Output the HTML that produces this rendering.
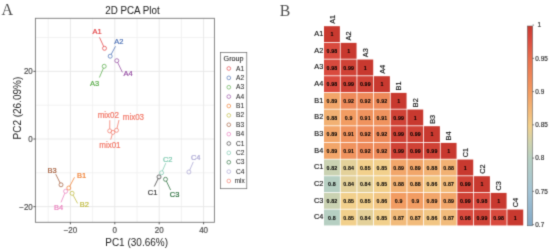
<!DOCTYPE html>
<html><head><meta charset="utf-8"><style>
html,body{margin:0;padding:0;background:#fff;}
body{width:550px;height:252px;overflow:hidden;}
svg{display:block;font-family:"Liberation Sans",sans-serif;will-change:transform;}
</style></head><body>
<svg width="550" height="252" viewBox="0 0 550 252">
<defs><filter id="soft" x="0" y="0" width="550" height="252" filterUnits="userSpaceOnUse" color-interpolation-filters="sRGB"><feConvolveMatrix order="3" kernelMatrix="0.01917 0.10012 0.01917 0.10012 0.52283 0.10012 0.01917 0.10012 0.01917" edgeMode="duplicate" preserveAlpha="true"/></filter></defs><g filter="url(#soft)"><rect width="550" height="252" fill="#fff"/><line x1="48.20" y1="18.3" x2="48.20" y2="222.3" stroke="#efefef" stroke-width="0.8"/>
<line x1="92.60" y1="18.3" x2="92.60" y2="222.3" stroke="#efefef" stroke-width="0.8"/>
<line x1="137.00" y1="18.3" x2="137.00" y2="222.3" stroke="#efefef" stroke-width="0.8"/>
<line x1="181.40" y1="18.3" x2="181.40" y2="222.3" stroke="#efefef" stroke-width="0.8"/>
<line x1="35.4" y1="37.53" x2="214.4" y2="37.53" stroke="#efefef" stroke-width="0.8"/>
<line x1="35.4" y1="105.18" x2="214.4" y2="105.18" stroke="#efefef" stroke-width="0.8"/>
<line x1="35.4" y1="172.82" x2="214.4" y2="172.82" stroke="#efefef" stroke-width="0.8"/>
<line x1="70.40" y1="18.3" x2="70.40" y2="222.3" stroke="#e9e9e9" stroke-width="1"/>
<line x1="114.80" y1="18.3" x2="114.80" y2="222.3" stroke="#e9e9e9" stroke-width="1"/>
<line x1="159.20" y1="18.3" x2="159.20" y2="222.3" stroke="#e9e9e9" stroke-width="1"/>
<line x1="203.60" y1="18.3" x2="203.60" y2="222.3" stroke="#e9e9e9" stroke-width="1"/>
<line x1="35.4" y1="71.35" x2="214.4" y2="71.35" stroke="#e9e9e9" stroke-width="1"/>
<line x1="35.4" y1="139.00" x2="214.4" y2="139.00" stroke="#e9e9e9" stroke-width="1"/>
<line x1="35.4" y1="206.65" x2="214.4" y2="206.65" stroke="#e9e9e9" stroke-width="1"/>
<line x1="103.67" y1="46.48" x2="99.5" y2="37.4" stroke="#e23f42" stroke-width="0.75"/>
<line x1="111.14" y1="54.44" x2="115.5" y2="46.3" stroke="#4a6fb5" stroke-width="0.75"/>
<line x1="103.41" y1="68.14" x2="99.4" y2="77.5" stroke="#58ab48" stroke-width="0.75"/>
<line x1="117.67" y1="62.50" x2="122.4" y2="72.3" stroke="#944ba2" stroke-width="0.75"/>
<line x1="69.74" y1="186.23" x2="74.5" y2="177.3" stroke="#ef7c2c" stroke-width="0.75"/>
<line x1="73.06" y1="195.06" x2="77.6" y2="203.4" stroke="#bfba3c" stroke-width="0.75"/>
<line x1="60.11" y1="183.01" x2="55.7" y2="174.1" stroke="#a35c3a" stroke-width="0.75"/>
<line x1="64.83" y1="193.15" x2="61.0" y2="202.4" stroke="#ea7cbc" stroke-width="0.75"/>
<line x1="158.12" y1="178.70" x2="154.3" y2="186.5" stroke="#3a3a3a" stroke-width="0.75"/>
<line x1="162.39" y1="170.96" x2="165.8" y2="163.1" stroke="#7cc8ae" stroke-width="0.75"/>
<line x1="166.36" y1="181.11" x2="170.6" y2="190.0" stroke="#2a6e3c" stroke-width="0.75"/>
<line x1="189.70" y1="170.17" x2="193.3" y2="161.9" stroke="#a8a4d2" stroke-width="0.75"/>
<line x1="112.32" y1="134.31" x2="110.7" y2="139.6" stroke="#f27868" stroke-width="0.75"/>
<line x1="109.72" y1="128.90" x2="109.8" y2="120.2" stroke="#f27868" stroke-width="0.75"/>
<line x1="116.97" y1="128.36" x2="119.0" y2="120.0" stroke="#f27868" stroke-width="0.75"/>
<circle cx="104.5" cy="48.3" r="2.0" fill="none" stroke="#e23f42" stroke-width="0.72"/>
<circle cx="110.2" cy="56.2" r="2.0" fill="none" stroke="#4a6fb5" stroke-width="0.72"/>
<circle cx="104.2" cy="66.3" r="2.0" fill="none" stroke="#58ab48" stroke-width="0.72"/>
<circle cx="116.8" cy="60.7" r="2.0" fill="none" stroke="#944ba2" stroke-width="0.72"/>
<circle cx="68.8" cy="188.0" r="2.0" fill="none" stroke="#ef7c2c" stroke-width="0.72"/>
<circle cx="72.1" cy="193.3" r="2.0" fill="none" stroke="#bfba3c" stroke-width="0.72"/>
<circle cx="61.0" cy="184.8" r="2.0" fill="none" stroke="#a35c3a" stroke-width="0.72"/>
<circle cx="65.6" cy="191.3" r="2.0" fill="none" stroke="#ea7cbc" stroke-width="0.72"/>
<circle cx="159.0" cy="176.9" r="2.0" fill="none" stroke="#3a3a3a" stroke-width="0.72"/>
<circle cx="161.6" cy="172.8" r="2.0" fill="none" stroke="#7cc8ae" stroke-width="0.72"/>
<circle cx="165.5" cy="179.3" r="2.0" fill="none" stroke="#2a6e3c" stroke-width="0.72"/>
<circle cx="188.9" cy="172.0" r="2.0" fill="none" stroke="#a8a4d2" stroke-width="0.72"/>
<circle cx="112.9" cy="132.4" r="2.0" fill="none" stroke="#f27868" stroke-width="0.72"/>
<circle cx="109.7" cy="130.9" r="2.0" fill="none" stroke="#f27868" stroke-width="0.72"/>
<circle cx="116.5" cy="130.3" r="2.0" fill="none" stroke="#f27868" stroke-width="0.72"/>
<text transform="translate(97.00,33.70) scale(1,1.03)" font-size="7.5" fill="#e23f42" stroke="#e23f42" stroke-width="0.2" text-anchor="middle">A1</text>
<text transform="translate(118.80,43.60) scale(1,1.03)" font-size="7.5" fill="#4a6fb5" stroke="#4a6fb5" stroke-width="0.2" text-anchor="middle">A2</text>
<text transform="translate(94.70,86.40) scale(1,1.03)" font-size="7.5" fill="#58ab48" stroke="#58ab48" stroke-width="0.2" text-anchor="middle">A3</text>
<text transform="translate(128.00,76.40) scale(1,1.03)" font-size="7.5" fill="#944ba2" stroke="#944ba2" stroke-width="0.2" text-anchor="middle">A4</text>
<text transform="translate(81.60,177.50) scale(1,1.03)" font-size="7.5" fill="#ef7c2c" stroke="#ef7c2c" stroke-width="0.2" text-anchor="middle">B1</text>
<text transform="translate(84.40,206.60) scale(1,1.03)" font-size="7.5" fill="#bfba3c" stroke="#bfba3c" stroke-width="0.2" text-anchor="middle">B2</text>
<text transform="translate(52.20,172.50) scale(1,1.03)" font-size="7.5" fill="#a35c3a" stroke="#a35c3a" stroke-width="0.2" text-anchor="middle">B3</text>
<text transform="translate(58.70,210.20) scale(1,1.03)" font-size="7.5" fill="#ea7cbc" stroke="#ea7cbc" stroke-width="0.2" text-anchor="middle">B4</text>
<text transform="translate(152.50,194.80) scale(1,1.03)" font-size="7.5" fill="#3a3a3a" stroke="#3a3a3a" stroke-width="0.2" text-anchor="middle">C1</text>
<text transform="translate(167.70,161.50) scale(1,1.03)" font-size="7.5" fill="#7cc8ae" stroke="#7cc8ae" stroke-width="0.2" text-anchor="middle">C2</text>
<text transform="translate(174.50,197.20) scale(1,1.03)" font-size="7.5" fill="#2a6e3c" stroke="#2a6e3c" stroke-width="0.2" text-anchor="middle">C3</text>
<text transform="translate(195.70,160.10) scale(1,1.03)" font-size="7.5" fill="#a8a4d2" stroke="#a8a4d2" stroke-width="0.2" text-anchor="middle">C4</text>
<text transform="translate(109.90,148.30) scale(1,1.03)" font-size="8.0" fill="#f27868" stroke="#f27868" stroke-width="0.2" text-anchor="middle">mix01</text>
<text transform="translate(108.30,117.50) scale(1,1.03)" font-size="8.0" fill="#f27868" stroke="#f27868" stroke-width="0.2" text-anchor="middle">mix02</text>
<text transform="translate(133.40,119.80) scale(1,1.03)" font-size="8.0" fill="#f27868" stroke="#f27868" stroke-width="0.2" text-anchor="middle">mix03</text>
<rect x="35.4" y="18.3" width="179.00" height="204.00" fill="none" stroke="#7a7a7a" stroke-width="0.9"/>
<line x1="70.40" y1="222.3" x2="70.40" y2="224.3" stroke="#333" stroke-width="0.8"/>
<line x1="114.80" y1="222.3" x2="114.80" y2="224.3" stroke="#333" stroke-width="0.8"/>
<line x1="159.20" y1="222.3" x2="159.20" y2="224.3" stroke="#333" stroke-width="0.8"/>
<line x1="203.60" y1="222.3" x2="203.60" y2="224.3" stroke="#333" stroke-width="0.8"/>
<line x1="33.4" y1="71.35" x2="35.4" y2="71.35" stroke="#333" stroke-width="0.8"/>
<line x1="33.4" y1="139.00" x2="35.4" y2="139.00" stroke="#333" stroke-width="0.8"/>
<line x1="33.4" y1="206.65" x2="35.4" y2="206.65" stroke="#333" stroke-width="0.8"/>
<text transform="translate(70.40,232.70) scale(1,1.03)" font-size="8" fill="#4d4d4d" stroke="#4d4d4d" stroke-width="0.18" text-anchor="middle">−20</text>
<text transform="translate(114.80,232.70) scale(1,1.03)" font-size="8" fill="#4d4d4d" stroke="#4d4d4d" stroke-width="0.18" text-anchor="middle">0</text>
<text transform="translate(159.20,232.70) scale(1,1.03)" font-size="8" fill="#4d4d4d" stroke="#4d4d4d" stroke-width="0.18" text-anchor="middle">20</text>
<text transform="translate(203.60,232.70) scale(1,1.03)" font-size="8" fill="#4d4d4d" stroke="#4d4d4d" stroke-width="0.18" text-anchor="middle">40</text>
<text transform="translate(32.80,74.25) scale(1,1.03)" font-size="8" fill="#4d4d4d" stroke="#4d4d4d" stroke-width="0.18" text-anchor="end">20</text>
<text transform="translate(32.80,141.90) scale(1,1.03)" font-size="8" fill="#4d4d4d" stroke="#4d4d4d" stroke-width="0.18" text-anchor="end">0</text>
<text transform="translate(32.80,209.55) scale(1,1.03)" font-size="8" fill="#4d4d4d" stroke="#4d4d4d" stroke-width="0.18" text-anchor="end">−20</text>
<text transform="translate(136.60,246.30) scale(1,1.03)" font-size="10" fill="#262626" text-anchor="middle">PC1 (30.66%)</text>
<text transform="translate(20.90,108.10) rotate(-90) scale(1,1.03)" font-size="10" fill="#262626" text-anchor="middle">PC2 (26.09%)</text>
<text transform="translate(132.40,13.80) scale(1,1.03)" font-size="9.8" fill="#222" stroke="#222" stroke-width="0.03" text-anchor="middle">2D PCA Plot</text>
<text transform="translate(1.60,15.20)" font-size="16.0" fill="#505050" font-family="Liberation Serif, serif">A</text>
<rect x="220.6" y="52.4" width="26.2" height="136.3" fill="#fff" stroke="#666" stroke-width="0.7"/>
<text transform="translate(223.60,60.50) scale(1,1.03)" font-size="7.2" fill="#2a2a2a" stroke="#2a2a2a" stroke-width="0.1">Group</text>
<circle cx="228.8" cy="68.50" r="1.85" fill="none" stroke="#e23f42" stroke-width="0.65"/>
<text transform="translate(236.00,70.60) scale(1,1.03)" font-size="6.6" fill="#333" stroke="#333" stroke-width="0.08">A1</text>
<circle cx="228.8" cy="77.88" r="1.85" fill="none" stroke="#4a6fb5" stroke-width="0.65"/>
<text transform="translate(236.00,79.98) scale(1,1.03)" font-size="6.6" fill="#333" stroke="#333" stroke-width="0.08">A2</text>
<circle cx="228.8" cy="87.25" r="1.85" fill="none" stroke="#58ab48" stroke-width="0.65"/>
<text transform="translate(236.00,89.35) scale(1,1.03)" font-size="6.6" fill="#333" stroke="#333" stroke-width="0.08">A3</text>
<circle cx="228.8" cy="96.62" r="1.85" fill="none" stroke="#944ba2" stroke-width="0.65"/>
<text transform="translate(236.00,98.73) scale(1,1.03)" font-size="6.6" fill="#333" stroke="#333" stroke-width="0.08">A4</text>
<circle cx="228.8" cy="106.00" r="1.85" fill="none" stroke="#ef7c2c" stroke-width="0.65"/>
<text transform="translate(236.00,108.10) scale(1,1.03)" font-size="6.6" fill="#333" stroke="#333" stroke-width="0.08">B1</text>
<circle cx="228.8" cy="115.38" r="1.85" fill="none" stroke="#bfba3c" stroke-width="0.65"/>
<text transform="translate(236.00,117.48) scale(1,1.03)" font-size="6.6" fill="#333" stroke="#333" stroke-width="0.08">B2</text>
<circle cx="228.8" cy="124.75" r="1.85" fill="none" stroke="#a35c3a" stroke-width="0.65"/>
<text transform="translate(236.00,126.85) scale(1,1.03)" font-size="6.6" fill="#333" stroke="#333" stroke-width="0.08">B3</text>
<circle cx="228.8" cy="134.12" r="1.85" fill="none" stroke="#ea7cbc" stroke-width="0.65"/>
<text transform="translate(236.00,136.22) scale(1,1.03)" font-size="6.6" fill="#333" stroke="#333" stroke-width="0.08">B4</text>
<circle cx="228.8" cy="143.50" r="1.85" fill="none" stroke="#3a3a3a" stroke-width="0.65"/>
<text transform="translate(236.00,145.60) scale(1,1.03)" font-size="6.6" fill="#333" stroke="#333" stroke-width="0.08">C1</text>
<circle cx="228.8" cy="152.88" r="1.85" fill="none" stroke="#7cc8ae" stroke-width="0.65"/>
<text transform="translate(236.00,154.97) scale(1,1.03)" font-size="6.6" fill="#333" stroke="#333" stroke-width="0.08">C2</text>
<circle cx="228.8" cy="162.25" r="1.85" fill="none" stroke="#2a6e3c" stroke-width="0.65"/>
<text transform="translate(236.00,164.35) scale(1,1.03)" font-size="6.6" fill="#333" stroke="#333" stroke-width="0.08">C3</text>
<circle cx="228.8" cy="171.62" r="1.85" fill="none" stroke="#a8a4d2" stroke-width="0.65"/>
<text transform="translate(236.00,173.72) scale(1,1.03)" font-size="6.6" fill="#333" stroke="#333" stroke-width="0.08">C4</text>
<circle cx="228.8" cy="181.00" r="1.85" fill="none" stroke="#f27868" stroke-width="0.65"/>
<text transform="translate(234.80,183.10) scale(1,1.03)" font-size="6.4" fill="#333" stroke="#333" stroke-width="0.08">mix</text>
<text transform="translate(279.80,15.50)" font-size="15.8" fill="#505050" font-family="Liberation Serif, serif">B</text>
<rect x="324.00" y="26.20" width="15.87" height="15.87" fill="#c8392f"/>
<rect x="324.00" y="42.87" width="15.87" height="15.87" fill="#d94a3e"/>
<rect x="340.67" y="42.87" width="15.87" height="15.87" fill="#c8392f"/>
<rect x="324.00" y="59.54" width="15.87" height="15.87" fill="#d94a3e"/>
<rect x="340.67" y="59.54" width="15.87" height="15.87" fill="#d04236"/>
<rect x="357.34" y="59.54" width="15.87" height="15.87" fill="#c8392f"/>
<rect x="324.00" y="76.21" width="15.87" height="15.87" fill="#d94a3e"/>
<rect x="340.67" y="76.21" width="15.87" height="15.87" fill="#d04236"/>
<rect x="357.34" y="76.21" width="15.87" height="15.87" fill="#d04236"/>
<rect x="374.01" y="76.21" width="15.87" height="15.87" fill="#c8392f"/>
<rect x="324.00" y="92.88" width="15.87" height="15.87" fill="#f2a66a"/>
<rect x="340.67" y="92.88" width="15.87" height="15.87" fill="#ee8a5a"/>
<rect x="357.34" y="92.88" width="15.87" height="15.87" fill="#ee8a5a"/>
<rect x="374.01" y="92.88" width="15.87" height="15.87" fill="#ee8a5a"/>
<rect x="390.68" y="92.88" width="15.87" height="15.87" fill="#c8392f"/>
<rect x="324.00" y="109.55" width="15.87" height="15.87" fill="#f2b173"/>
<rect x="340.67" y="109.55" width="15.87" height="15.87" fill="#f29c62"/>
<rect x="357.34" y="109.55" width="15.87" height="15.87" fill="#f0935e"/>
<rect x="374.01" y="109.55" width="15.87" height="15.87" fill="#f0935e"/>
<rect x="390.68" y="109.55" width="15.87" height="15.87" fill="#d04236"/>
<rect x="407.35" y="109.55" width="15.87" height="15.87" fill="#c8392f"/>
<rect x="324.00" y="126.22" width="15.87" height="15.87" fill="#f2a66a"/>
<rect x="340.67" y="126.22" width="15.87" height="15.87" fill="#f0935e"/>
<rect x="357.34" y="126.22" width="15.87" height="15.87" fill="#ee8a5a"/>
<rect x="374.01" y="126.22" width="15.87" height="15.87" fill="#ee8a5a"/>
<rect x="390.68" y="126.22" width="15.87" height="15.87" fill="#d04236"/>
<rect x="407.35" y="126.22" width="15.87" height="15.87" fill="#d04236"/>
<rect x="424.02" y="126.22" width="15.87" height="15.87" fill="#c8392f"/>
<rect x="324.00" y="142.89" width="15.87" height="15.87" fill="#f2a66a"/>
<rect x="340.67" y="142.89" width="15.87" height="15.87" fill="#f0935e"/>
<rect x="357.34" y="142.89" width="15.87" height="15.87" fill="#ee8a5a"/>
<rect x="374.01" y="142.89" width="15.87" height="15.87" fill="#ee8a5a"/>
<rect x="390.68" y="142.89" width="15.87" height="15.87" fill="#d04236"/>
<rect x="407.35" y="142.89" width="15.87" height="15.87" fill="#d04236"/>
<rect x="424.02" y="142.89" width="15.87" height="15.87" fill="#d04236"/>
<rect x="440.69" y="142.89" width="15.87" height="15.87" fill="#c8392f"/>
<rect x="324.00" y="159.56" width="15.87" height="15.87" fill="#cad2b2"/>
<rect x="340.67" y="159.56" width="15.87" height="15.87" fill="#e4d19a"/>
<rect x="357.34" y="159.56" width="15.87" height="15.87" fill="#f2d08c"/>
<rect x="374.01" y="159.56" width="15.87" height="15.87" fill="#f2d08c"/>
<rect x="390.68" y="159.56" width="15.87" height="15.87" fill="#f2a66a"/>
<rect x="407.35" y="159.56" width="15.87" height="15.87" fill="#f2a66a"/>
<rect x="424.02" y="159.56" width="15.87" height="15.87" fill="#f2b173"/>
<rect x="440.69" y="159.56" width="15.87" height="15.87" fill="#f2b173"/>
<rect x="457.36" y="159.56" width="15.87" height="15.87" fill="#c8392f"/>
<rect x="324.00" y="176.23" width="15.87" height="15.87" fill="#b6cfc2"/>
<rect x="340.67" y="176.23" width="15.87" height="15.87" fill="#e4d19a"/>
<rect x="357.34" y="176.23" width="15.87" height="15.87" fill="#e4d19a"/>
<rect x="374.01" y="176.23" width="15.87" height="15.87" fill="#f2d08c"/>
<rect x="390.68" y="176.23" width="15.87" height="15.87" fill="#f2b173"/>
<rect x="407.35" y="176.23" width="15.87" height="15.87" fill="#f2b173"/>
<rect x="424.02" y="176.23" width="15.87" height="15.87" fill="#f2c684"/>
<rect x="440.69" y="176.23" width="15.87" height="15.87" fill="#f2bb7b"/>
<rect x="457.36" y="176.23" width="15.87" height="15.87" fill="#d04236"/>
<rect x="474.03" y="176.23" width="15.87" height="15.87" fill="#c8392f"/>
<rect x="324.00" y="192.90" width="15.87" height="15.87" fill="#cad2b2"/>
<rect x="340.67" y="192.90" width="15.87" height="15.87" fill="#f2d08c"/>
<rect x="357.34" y="192.90" width="15.87" height="15.87" fill="#f2d08c"/>
<rect x="374.01" y="192.90" width="15.87" height="15.87" fill="#f2c684"/>
<rect x="390.68" y="192.90" width="15.87" height="15.87" fill="#f29c62"/>
<rect x="407.35" y="192.90" width="15.87" height="15.87" fill="#f29c62"/>
<rect x="424.02" y="192.90" width="15.87" height="15.87" fill="#f2a66a"/>
<rect x="440.69" y="192.90" width="15.87" height="15.87" fill="#f2a66a"/>
<rect x="457.36" y="192.90" width="15.87" height="15.87" fill="#d04236"/>
<rect x="474.03" y="192.90" width="15.87" height="15.87" fill="#d94a3e"/>
<rect x="490.70" y="192.90" width="15.87" height="15.87" fill="#c8392f"/>
<rect x="324.00" y="209.57" width="15.87" height="15.87" fill="#b6cfc2"/>
<rect x="340.67" y="209.57" width="15.87" height="15.87" fill="#f2d08c"/>
<rect x="357.34" y="209.57" width="15.87" height="15.87" fill="#e4d19a"/>
<rect x="374.01" y="209.57" width="15.87" height="15.87" fill="#f2d08c"/>
<rect x="390.68" y="209.57" width="15.87" height="15.87" fill="#f2bb7b"/>
<rect x="407.35" y="209.57" width="15.87" height="15.87" fill="#f2bb7b"/>
<rect x="424.02" y="209.57" width="15.87" height="15.87" fill="#f2c684"/>
<rect x="440.69" y="209.57" width="15.87" height="15.87" fill="#f2bb7b"/>
<rect x="457.36" y="209.57" width="15.87" height="15.87" fill="#d94a3e"/>
<rect x="474.03" y="209.57" width="15.87" height="15.87" fill="#d04236"/>
<rect x="490.70" y="209.57" width="15.87" height="15.87" fill="#d94a3e"/>
<rect x="507.37" y="209.57" width="15.87" height="15.87" fill="#c8392f"/>
<text transform="translate(332.01,36.24) scale(1,1.08)" font-size="5.3" fill="#000" stroke="#000" stroke-width="0.06" text-anchor="middle" font-weight="bold" letter-spacing="0.15">1</text>
<text transform="translate(332.01,52.91) scale(1,1.08)" font-size="5.3" fill="#000" stroke="#000" stroke-width="0.06" text-anchor="middle" font-weight="bold" letter-spacing="0.15">0.98</text>
<text transform="translate(348.69,52.91) scale(1,1.08)" font-size="5.3" fill="#000" stroke="#000" stroke-width="0.06" text-anchor="middle" font-weight="bold" letter-spacing="0.15">1</text>
<text transform="translate(332.01,69.57) scale(1,1.08)" font-size="5.3" fill="#000" stroke="#000" stroke-width="0.06" text-anchor="middle" font-weight="bold" letter-spacing="0.15">0.98</text>
<text transform="translate(348.69,69.57) scale(1,1.08)" font-size="5.3" fill="#000" stroke="#000" stroke-width="0.06" text-anchor="middle" font-weight="bold" letter-spacing="0.15">0.99</text>
<text transform="translate(365.36,69.57) scale(1,1.08)" font-size="5.3" fill="#000" stroke="#000" stroke-width="0.06" text-anchor="middle" font-weight="bold" letter-spacing="0.15">1</text>
<text transform="translate(332.01,86.25) scale(1,1.08)" font-size="5.3" fill="#000" stroke="#000" stroke-width="0.06" text-anchor="middle" font-weight="bold" letter-spacing="0.15">0.98</text>
<text transform="translate(348.69,86.25) scale(1,1.08)" font-size="5.3" fill="#000" stroke="#000" stroke-width="0.06" text-anchor="middle" font-weight="bold" letter-spacing="0.15">0.99</text>
<text transform="translate(365.36,86.25) scale(1,1.08)" font-size="5.3" fill="#000" stroke="#000" stroke-width="0.06" text-anchor="middle" font-weight="bold" letter-spacing="0.15">0.99</text>
<text transform="translate(382.02,86.25) scale(1,1.08)" font-size="5.3" fill="#000" stroke="#000" stroke-width="0.06" text-anchor="middle" font-weight="bold" letter-spacing="0.15">1</text>
<text transform="translate(332.01,102.91) scale(1,1.08)" font-size="5.3" fill="#000" stroke="#000" stroke-width="0.06" text-anchor="middle" font-weight="bold" letter-spacing="0.15">0.89</text>
<text transform="translate(348.69,102.91) scale(1,1.08)" font-size="5.3" fill="#000" stroke="#000" stroke-width="0.06" text-anchor="middle" font-weight="bold" letter-spacing="0.15">0.92</text>
<text transform="translate(365.36,102.91) scale(1,1.08)" font-size="5.3" fill="#000" stroke="#000" stroke-width="0.06" text-anchor="middle" font-weight="bold" letter-spacing="0.15">0.92</text>
<text transform="translate(382.02,102.91) scale(1,1.08)" font-size="5.3" fill="#000" stroke="#000" stroke-width="0.06" text-anchor="middle" font-weight="bold" letter-spacing="0.15">0.92</text>
<text transform="translate(398.69,102.91) scale(1,1.08)" font-size="5.3" fill="#000" stroke="#000" stroke-width="0.06" text-anchor="middle" font-weight="bold" letter-spacing="0.15">1</text>
<text transform="translate(332.01,119.59) scale(1,1.08)" font-size="5.3" fill="#000" stroke="#000" stroke-width="0.06" text-anchor="middle" font-weight="bold" letter-spacing="0.15">0.88</text>
<text transform="translate(348.69,119.59) scale(1,1.08)" font-size="5.3" fill="#000" stroke="#000" stroke-width="0.06" text-anchor="middle" font-weight="bold" letter-spacing="0.15">0.9</text>
<text transform="translate(365.36,119.59) scale(1,1.08)" font-size="5.3" fill="#000" stroke="#000" stroke-width="0.06" text-anchor="middle" font-weight="bold" letter-spacing="0.15">0.91</text>
<text transform="translate(382.02,119.59) scale(1,1.08)" font-size="5.3" fill="#000" stroke="#000" stroke-width="0.06" text-anchor="middle" font-weight="bold" letter-spacing="0.15">0.91</text>
<text transform="translate(398.69,119.59) scale(1,1.08)" font-size="5.3" fill="#000" stroke="#000" stroke-width="0.06" text-anchor="middle" font-weight="bold" letter-spacing="0.15">0.99</text>
<text transform="translate(415.37,119.59) scale(1,1.08)" font-size="5.3" fill="#000" stroke="#000" stroke-width="0.06" text-anchor="middle" font-weight="bold" letter-spacing="0.15">1</text>
<text transform="translate(332.01,136.25) scale(1,1.08)" font-size="5.3" fill="#000" stroke="#000" stroke-width="0.06" text-anchor="middle" font-weight="bold" letter-spacing="0.15">0.89</text>
<text transform="translate(348.69,136.25) scale(1,1.08)" font-size="5.3" fill="#000" stroke="#000" stroke-width="0.06" text-anchor="middle" font-weight="bold" letter-spacing="0.15">0.91</text>
<text transform="translate(365.36,136.25) scale(1,1.08)" font-size="5.3" fill="#000" stroke="#000" stroke-width="0.06" text-anchor="middle" font-weight="bold" letter-spacing="0.15">0.92</text>
<text transform="translate(382.02,136.25) scale(1,1.08)" font-size="5.3" fill="#000" stroke="#000" stroke-width="0.06" text-anchor="middle" font-weight="bold" letter-spacing="0.15">0.92</text>
<text transform="translate(398.69,136.25) scale(1,1.08)" font-size="5.3" fill="#000" stroke="#000" stroke-width="0.06" text-anchor="middle" font-weight="bold" letter-spacing="0.15">0.99</text>
<text transform="translate(415.37,136.25) scale(1,1.08)" font-size="5.3" fill="#000" stroke="#000" stroke-width="0.06" text-anchor="middle" font-weight="bold" letter-spacing="0.15">0.99</text>
<text transform="translate(432.03,136.25) scale(1,1.08)" font-size="5.3" fill="#000" stroke="#000" stroke-width="0.06" text-anchor="middle" font-weight="bold" letter-spacing="0.15">1</text>
<text transform="translate(332.01,152.93) scale(1,1.08)" font-size="5.3" fill="#000" stroke="#000" stroke-width="0.06" text-anchor="middle" font-weight="bold" letter-spacing="0.15">0.89</text>
<text transform="translate(348.69,152.93) scale(1,1.08)" font-size="5.3" fill="#000" stroke="#000" stroke-width="0.06" text-anchor="middle" font-weight="bold" letter-spacing="0.15">0.91</text>
<text transform="translate(365.36,152.93) scale(1,1.08)" font-size="5.3" fill="#000" stroke="#000" stroke-width="0.06" text-anchor="middle" font-weight="bold" letter-spacing="0.15">0.92</text>
<text transform="translate(382.02,152.93) scale(1,1.08)" font-size="5.3" fill="#000" stroke="#000" stroke-width="0.06" text-anchor="middle" font-weight="bold" letter-spacing="0.15">0.92</text>
<text transform="translate(398.69,152.93) scale(1,1.08)" font-size="5.3" fill="#000" stroke="#000" stroke-width="0.06" text-anchor="middle" font-weight="bold" letter-spacing="0.15">0.99</text>
<text transform="translate(415.37,152.93) scale(1,1.08)" font-size="5.3" fill="#000" stroke="#000" stroke-width="0.06" text-anchor="middle" font-weight="bold" letter-spacing="0.15">0.99</text>
<text transform="translate(432.03,152.93) scale(1,1.08)" font-size="5.3" fill="#000" stroke="#000" stroke-width="0.06" text-anchor="middle" font-weight="bold" letter-spacing="0.15">0.99</text>
<text transform="translate(448.70,152.93) scale(1,1.08)" font-size="5.3" fill="#000" stroke="#000" stroke-width="0.06" text-anchor="middle" font-weight="bold" letter-spacing="0.15">1</text>
<text transform="translate(332.01,169.60) scale(1,1.08)" font-size="5.3" fill="#000" stroke="#000" stroke-width="0.06" text-anchor="middle" font-weight="bold" letter-spacing="0.15">0.82</text>
<text transform="translate(348.69,169.60) scale(1,1.08)" font-size="5.3" fill="#000" stroke="#000" stroke-width="0.06" text-anchor="middle" font-weight="bold" letter-spacing="0.15">0.84</text>
<text transform="translate(365.36,169.60) scale(1,1.08)" font-size="5.3" fill="#000" stroke="#000" stroke-width="0.06" text-anchor="middle" font-weight="bold" letter-spacing="0.15">0.85</text>
<text transform="translate(382.02,169.60) scale(1,1.08)" font-size="5.3" fill="#000" stroke="#000" stroke-width="0.06" text-anchor="middle" font-weight="bold" letter-spacing="0.15">0.85</text>
<text transform="translate(398.69,169.60) scale(1,1.08)" font-size="5.3" fill="#000" stroke="#000" stroke-width="0.06" text-anchor="middle" font-weight="bold" letter-spacing="0.15">0.89</text>
<text transform="translate(415.37,169.60) scale(1,1.08)" font-size="5.3" fill="#000" stroke="#000" stroke-width="0.06" text-anchor="middle" font-weight="bold" letter-spacing="0.15">0.89</text>
<text transform="translate(432.03,169.60) scale(1,1.08)" font-size="5.3" fill="#000" stroke="#000" stroke-width="0.06" text-anchor="middle" font-weight="bold" letter-spacing="0.15">0.88</text>
<text transform="translate(448.70,169.60) scale(1,1.08)" font-size="5.3" fill="#000" stroke="#000" stroke-width="0.06" text-anchor="middle" font-weight="bold" letter-spacing="0.15">0.88</text>
<text transform="translate(465.38,169.60) scale(1,1.08)" font-size="5.3" fill="#000" stroke="#000" stroke-width="0.06" text-anchor="middle" font-weight="bold" letter-spacing="0.15">1</text>
<text transform="translate(332.01,186.27) scale(1,1.08)" font-size="5.3" fill="#000" stroke="#000" stroke-width="0.06" text-anchor="middle" font-weight="bold" letter-spacing="0.15">0.8</text>
<text transform="translate(348.69,186.27) scale(1,1.08)" font-size="5.3" fill="#000" stroke="#000" stroke-width="0.06" text-anchor="middle" font-weight="bold" letter-spacing="0.15">0.84</text>
<text transform="translate(365.36,186.27) scale(1,1.08)" font-size="5.3" fill="#000" stroke="#000" stroke-width="0.06" text-anchor="middle" font-weight="bold" letter-spacing="0.15">0.84</text>
<text transform="translate(382.02,186.27) scale(1,1.08)" font-size="5.3" fill="#000" stroke="#000" stroke-width="0.06" text-anchor="middle" font-weight="bold" letter-spacing="0.15">0.85</text>
<text transform="translate(398.69,186.27) scale(1,1.08)" font-size="5.3" fill="#000" stroke="#000" stroke-width="0.06" text-anchor="middle" font-weight="bold" letter-spacing="0.15">0.88</text>
<text transform="translate(415.37,186.27) scale(1,1.08)" font-size="5.3" fill="#000" stroke="#000" stroke-width="0.06" text-anchor="middle" font-weight="bold" letter-spacing="0.15">0.88</text>
<text transform="translate(432.03,186.27) scale(1,1.08)" font-size="5.3" fill="#000" stroke="#000" stroke-width="0.06" text-anchor="middle" font-weight="bold" letter-spacing="0.15">0.86</text>
<text transform="translate(448.70,186.27) scale(1,1.08)" font-size="5.3" fill="#000" stroke="#000" stroke-width="0.06" text-anchor="middle" font-weight="bold" letter-spacing="0.15">0.87</text>
<text transform="translate(465.38,186.27) scale(1,1.08)" font-size="5.3" fill="#000" stroke="#000" stroke-width="0.06" text-anchor="middle" font-weight="bold" letter-spacing="0.15">0.99</text>
<text transform="translate(482.05,186.27) scale(1,1.08)" font-size="5.3" fill="#000" stroke="#000" stroke-width="0.06" text-anchor="middle" font-weight="bold" letter-spacing="0.15">1</text>
<text transform="translate(332.01,202.94) scale(1,1.08)" font-size="5.3" fill="#000" stroke="#000" stroke-width="0.06" text-anchor="middle" font-weight="bold" letter-spacing="0.15">0.82</text>
<text transform="translate(348.69,202.94) scale(1,1.08)" font-size="5.3" fill="#000" stroke="#000" stroke-width="0.06" text-anchor="middle" font-weight="bold" letter-spacing="0.15">0.85</text>
<text transform="translate(365.36,202.94) scale(1,1.08)" font-size="5.3" fill="#000" stroke="#000" stroke-width="0.06" text-anchor="middle" font-weight="bold" letter-spacing="0.15">0.85</text>
<text transform="translate(382.02,202.94) scale(1,1.08)" font-size="5.3" fill="#000" stroke="#000" stroke-width="0.06" text-anchor="middle" font-weight="bold" letter-spacing="0.15">0.86</text>
<text transform="translate(398.69,202.94) scale(1,1.08)" font-size="5.3" fill="#000" stroke="#000" stroke-width="0.06" text-anchor="middle" font-weight="bold" letter-spacing="0.15">0.9</text>
<text transform="translate(415.37,202.94) scale(1,1.08)" font-size="5.3" fill="#000" stroke="#000" stroke-width="0.06" text-anchor="middle" font-weight="bold" letter-spacing="0.15">0.9</text>
<text transform="translate(432.03,202.94) scale(1,1.08)" font-size="5.3" fill="#000" stroke="#000" stroke-width="0.06" text-anchor="middle" font-weight="bold" letter-spacing="0.15">0.89</text>
<text transform="translate(448.70,202.94) scale(1,1.08)" font-size="5.3" fill="#000" stroke="#000" stroke-width="0.06" text-anchor="middle" font-weight="bold" letter-spacing="0.15">0.89</text>
<text transform="translate(465.38,202.94) scale(1,1.08)" font-size="5.3" fill="#000" stroke="#000" stroke-width="0.06" text-anchor="middle" font-weight="bold" letter-spacing="0.15">0.99</text>
<text transform="translate(482.05,202.94) scale(1,1.08)" font-size="5.3" fill="#000" stroke="#000" stroke-width="0.06" text-anchor="middle" font-weight="bold" letter-spacing="0.15">0.98</text>
<text transform="translate(498.72,202.94) scale(1,1.08)" font-size="5.3" fill="#000" stroke="#000" stroke-width="0.06" text-anchor="middle" font-weight="bold" letter-spacing="0.15">1</text>
<text transform="translate(332.01,219.61) scale(1,1.08)" font-size="5.3" fill="#000" stroke="#000" stroke-width="0.06" text-anchor="middle" font-weight="bold" letter-spacing="0.15">0.8</text>
<text transform="translate(348.69,219.61) scale(1,1.08)" font-size="5.3" fill="#000" stroke="#000" stroke-width="0.06" text-anchor="middle" font-weight="bold" letter-spacing="0.15">0.85</text>
<text transform="translate(365.36,219.61) scale(1,1.08)" font-size="5.3" fill="#000" stroke="#000" stroke-width="0.06" text-anchor="middle" font-weight="bold" letter-spacing="0.15">0.84</text>
<text transform="translate(382.02,219.61) scale(1,1.08)" font-size="5.3" fill="#000" stroke="#000" stroke-width="0.06" text-anchor="middle" font-weight="bold" letter-spacing="0.15">0.85</text>
<text transform="translate(398.69,219.61) scale(1,1.08)" font-size="5.3" fill="#000" stroke="#000" stroke-width="0.06" text-anchor="middle" font-weight="bold" letter-spacing="0.15">0.87</text>
<text transform="translate(415.37,219.61) scale(1,1.08)" font-size="5.3" fill="#000" stroke="#000" stroke-width="0.06" text-anchor="middle" font-weight="bold" letter-spacing="0.15">0.87</text>
<text transform="translate(432.03,219.61) scale(1,1.08)" font-size="5.3" fill="#000" stroke="#000" stroke-width="0.06" text-anchor="middle" font-weight="bold" letter-spacing="0.15">0.86</text>
<text transform="translate(448.70,219.61) scale(1,1.08)" font-size="5.3" fill="#000" stroke="#000" stroke-width="0.06" text-anchor="middle" font-weight="bold" letter-spacing="0.15">0.87</text>
<text transform="translate(465.38,219.61) scale(1,1.08)" font-size="5.3" fill="#000" stroke="#000" stroke-width="0.06" text-anchor="middle" font-weight="bold" letter-spacing="0.15">0.98</text>
<text transform="translate(482.05,219.61) scale(1,1.08)" font-size="5.3" fill="#000" stroke="#000" stroke-width="0.06" text-anchor="middle" font-weight="bold" letter-spacing="0.15">0.99</text>
<text transform="translate(498.72,219.61) scale(1,1.08)" font-size="5.3" fill="#000" stroke="#000" stroke-width="0.06" text-anchor="middle" font-weight="bold" letter-spacing="0.15">0.98</text>
<text transform="translate(515.39,219.61) scale(1,1.08)" font-size="5.3" fill="#000" stroke="#000" stroke-width="0.06" text-anchor="middle" font-weight="bold" letter-spacing="0.15">1</text>
<text transform="translate(323.30,35.94) scale(1,1.03)" font-size="7.3" fill="#111" stroke="#111" stroke-width="0.16" text-anchor="end">A1</text>
<text transform="translate(323.30,52.60) scale(1,1.03)" font-size="7.3" fill="#111" stroke="#111" stroke-width="0.16" text-anchor="end">A2</text>
<text transform="translate(323.30,69.27) scale(1,1.03)" font-size="7.3" fill="#111" stroke="#111" stroke-width="0.16" text-anchor="end">A3</text>
<text transform="translate(323.30,85.95) scale(1,1.03)" font-size="7.3" fill="#111" stroke="#111" stroke-width="0.16" text-anchor="end">A4</text>
<text transform="translate(323.30,102.61) scale(1,1.03)" font-size="7.3" fill="#111" stroke="#111" stroke-width="0.16" text-anchor="end">B1</text>
<text transform="translate(323.30,119.29) scale(1,1.03)" font-size="7.3" fill="#111" stroke="#111" stroke-width="0.16" text-anchor="end">B2</text>
<text transform="translate(323.30,135.96) scale(1,1.03)" font-size="7.3" fill="#111" stroke="#111" stroke-width="0.16" text-anchor="end">B3</text>
<text transform="translate(323.30,152.63) scale(1,1.03)" font-size="7.3" fill="#111" stroke="#111" stroke-width="0.16" text-anchor="end">B4</text>
<text transform="translate(323.30,169.30) scale(1,1.03)" font-size="7.3" fill="#111" stroke="#111" stroke-width="0.16" text-anchor="end">C1</text>
<text transform="translate(323.30,185.97) scale(1,1.03)" font-size="7.3" fill="#111" stroke="#111" stroke-width="0.16" text-anchor="end">C2</text>
<text transform="translate(323.30,202.64) scale(1,1.03)" font-size="7.3" fill="#111" stroke="#111" stroke-width="0.16" text-anchor="end">C3</text>
<text transform="translate(323.30,219.31) scale(1,1.03)" font-size="7.3" fill="#111" stroke="#111" stroke-width="0.16" text-anchor="end">C4</text>
<text transform="translate(334.63,23.80) rotate(-90) scale(1,1.03)" font-size="7.3" fill="#111" stroke="#111" stroke-width="0.16">A1</text>
<text transform="translate(351.31,40.47) rotate(-90) scale(1,1.03)" font-size="7.3" fill="#111" stroke="#111" stroke-width="0.16">A2</text>
<text transform="translate(367.98,57.14) rotate(-90) scale(1,1.03)" font-size="7.3" fill="#111" stroke="#111" stroke-width="0.16">A3</text>
<text transform="translate(384.64,73.81) rotate(-90) scale(1,1.03)" font-size="7.3" fill="#111" stroke="#111" stroke-width="0.16">A4</text>
<text transform="translate(401.31,90.48) rotate(-90) scale(1,1.03)" font-size="7.3" fill="#111" stroke="#111" stroke-width="0.16">B1</text>
<text transform="translate(417.99,107.15) rotate(-90) scale(1,1.03)" font-size="7.3" fill="#111" stroke="#111" stroke-width="0.16">B2</text>
<text transform="translate(434.65,123.82) rotate(-90) scale(1,1.03)" font-size="7.3" fill="#111" stroke="#111" stroke-width="0.16">B3</text>
<text transform="translate(451.32,140.49) rotate(-90) scale(1,1.03)" font-size="7.3" fill="#111" stroke="#111" stroke-width="0.16">B4</text>
<text transform="translate(468.00,157.16) rotate(-90) scale(1,1.03)" font-size="7.3" fill="#111" stroke="#111" stroke-width="0.16">C1</text>
<text transform="translate(484.67,173.83) rotate(-90) scale(1,1.03)" font-size="7.3" fill="#111" stroke="#111" stroke-width="0.16">C2</text>
<text transform="translate(501.34,190.50) rotate(-90) scale(1,1.03)" font-size="7.3" fill="#111" stroke="#111" stroke-width="0.16">C3</text>
<text transform="translate(518.01,207.17) rotate(-90) scale(1,1.03)" font-size="7.3" fill="#111" stroke="#111" stroke-width="0.16">C4</text>
<defs><linearGradient id="cb" x1="0" y1="0" x2="0" y2="1"><stop offset="0.0000" stop-color="#c8392f"/><stop offset="0.0667" stop-color="#d94a3e"/><stop offset="0.1667" stop-color="#e8704e"/><stop offset="0.3333" stop-color="#f29c62"/><stop offset="0.5000" stop-color="#f2d08c"/><stop offset="0.5833" stop-color="#cfd3ae"/><stop offset="0.6667" stop-color="#b6cfc2"/><stop offset="0.8333" stop-color="#a3c3d5"/><stop offset="1.0000" stop-color="#82a8c5"/></linearGradient></defs>
<rect x="527.4" y="26.0" width="5.20" height="199.80" fill="url(#cb)" stroke="#555" stroke-width="0.5"/>
<line x1="532.6" y1="25.10" x2="533.8000000000001" y2="25.10" stroke="#333" stroke-width="0.8"/>
<text transform="translate(537.40,27.40) scale(1,1.03)" font-size="6.4" fill="#333" stroke="#333" stroke-width="0.18">1</text>
<line x1="532.6" y1="58.35" x2="533.8000000000001" y2="58.35" stroke="#333" stroke-width="0.8"/>
<text transform="translate(535.30,60.65) scale(1,1.03)" font-size="6.4" fill="#333" stroke="#333" stroke-width="0.18">0.95</text>
<line x1="532.6" y1="91.60" x2="533.8000000000001" y2="91.60" stroke="#333" stroke-width="0.8"/>
<text transform="translate(535.30,93.90) scale(1,1.03)" font-size="6.4" fill="#333" stroke="#333" stroke-width="0.18">0.9</text>
<line x1="532.6" y1="124.85" x2="533.8000000000001" y2="124.85" stroke="#333" stroke-width="0.8"/>
<text transform="translate(535.30,127.15) scale(1,1.03)" font-size="6.4" fill="#333" stroke="#333" stroke-width="0.18">0.85</text>
<line x1="532.6" y1="158.10" x2="533.8000000000001" y2="158.10" stroke="#333" stroke-width="0.8"/>
<text transform="translate(535.30,160.40) scale(1,1.03)" font-size="6.4" fill="#333" stroke="#333" stroke-width="0.18">0.8</text>
<line x1="532.6" y1="191.35" x2="533.8000000000001" y2="191.35" stroke="#333" stroke-width="0.8"/>
<text transform="translate(535.30,193.65) scale(1,1.03)" font-size="6.4" fill="#333" stroke="#333" stroke-width="0.18">0.75</text>
<line x1="532.6" y1="224.60" x2="533.8000000000001" y2="224.60" stroke="#333" stroke-width="0.8"/>
<text transform="translate(535.30,226.90) scale(1,1.03)" font-size="6.4" fill="#333" stroke="#333" stroke-width="0.18">0.7</text></g>
</svg>
</body></html>
